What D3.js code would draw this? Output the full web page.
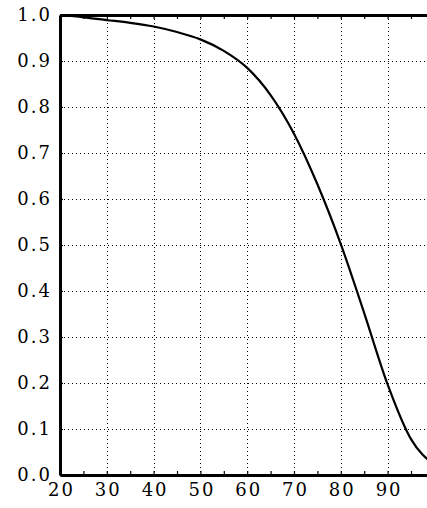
<!DOCTYPE html>
<html>
<head>
<meta charset="utf-8">
<script src="https://cdn.jsdelivr.net/npm/d3@7"></script>
<style>
  body { margin: 0; background: #fff; }
  svg { display: block; }
  .axis text { font-family: "DejaVu Serif", serif; font-size: 18px; letter-spacing: 2px; fill: #000; }
  .axis path, .axis line { stroke: #000; }
  .grid line { stroke: #000; stroke-width: 1; stroke-dasharray: 1,3; shape-rendering: crispEdges; }
</style>
</head>
<body>
<div id="wrapper"></div>
<script>
// survival curve, every 5 years
var ages     = [20, 25, 30, 35, 40, 45, 50, 55, 60, 65, 70, 75, 80, 85, 90, 95, 100];
var survival = [1.0, 0.995, 0.989, 0.983, 0.975, 0.963, 0.947, 0.922, 0.885, 0.826, 0.742, 0.632, 0.502, 0.352, 0.197, 0.078, 0.022];

// ticks and grid
var xTicks = [20, 25, 30, 35, 40, 45, 50, 55, 60, 65, 70, 75, 80, 85, 90, 95];
var xGrid  = [30, 40, 50, 60, 70, 80, 90];
var yTicks = [0.0, 0.1, 0.2, 0.3, 0.4, 0.5, 0.6, 0.7, 0.8, 0.9, 1.0];
var yGrid  = [0.1, 0.2, 0.3, 0.4, 0.5, 0.6, 0.7, 0.8, 0.9];

var width = 427, height = 508;
var margin = {top: 15, left: 60, bottom: 33};

var svg = d3.select("#wrapper").append("svg")
    .attr("width", width)
    .attr("height", height);

var x = d3.scaleLinear().domain([20, 100]).range([margin.left, margin.left + 80 * 4.68]);
var y = d3.scaleLinear().domain([0, 1]).range([height - margin.bottom, margin.top]);

// dotted grid
var grid = svg.append("g").attr("class", "grid");
grid.selectAll(".gx").data(xGrid).enter().append("line")
    .attr("x1", function(d) { return Math.round(x(d)) + 0.5; })
    .attr("x2", function(d) { return Math.round(x(d)) + 0.5; })
    .attr("y1", y(1))
    .attr("y2", y(0));
grid.selectAll(".gy").data(yGrid).enter().append("line")
    .attr("x1", x(20))
    .attr("x2", width)
    .attr("y1", function(d) { return Math.round(y(d)) + 0.5; })
    .attr("y2", function(d) { return Math.round(y(d)) + 0.5; });

// the curve
var line = d3.line()
    .x(function(d, i) { return x(ages[i]); })
    .y(function(d) { return y(d); })
    .curve(d3.curveMonotoneX);

svg.append("path")
    .datum(survival)
    .attr("fill", "none")
    .attr("stroke", "#000")
    .attr("stroke-width", 2.2)
    .attr("d", line);

// axes, ticks pointing inward
var bottom = svg.append("g")
    .attr("class", "axis")
    .attr("transform", "translate(0," + y(0) + ")")
    .call(d3.axisBottom(x).tickValues(xTicks).tickSize(-4).tickSizeOuter(0).tickPadding(8)
      .tickFormat(function(d) { return d % 10 === 0 ? d : ""; }));
bottom.selectAll("text").attr("dx", "1px");

svg.append("g")
    .attr("class", "axis")
    .attr("transform", "translate(0," + y(1) + ")")
    .call(d3.axisTop(x).tickValues(xTicks).tickSize(-4).tickSizeOuter(0).tickFormat(""));

svg.append("g")
    .attr("class", "axis")
    .attr("transform", "translate(" + x(20) + ",0)")
    .call(d3.axisLeft(y).tickValues(yTicks).tickSize(-3).tickSizeOuter(0).tickPadding(8)
      .tickFormat(d3.format(".1f")));

svg.selectAll(".axis path.domain").attr("stroke-width", 3);
svg.selectAll(".axis .tick line").attr("stroke-width", 1.2);
</script>
</body>
</html>
